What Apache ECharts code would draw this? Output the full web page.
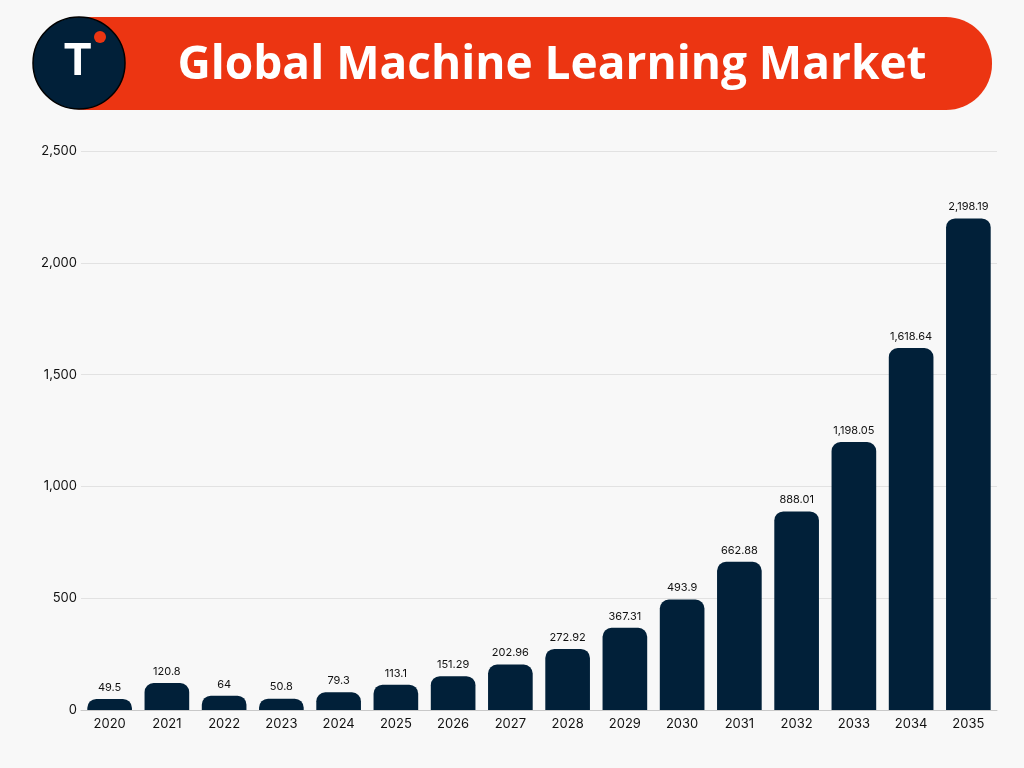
<!DOCTYPE html>
<html>
<head>
<meta charset="utf-8">
<script src="https://cdn.jsdelivr.net/npm/echarts@6/dist/echarts.min.js"></script>
<style>
  body, html { margin: 0; padding: 0; width: 100%; height: 100%; overflow: hidden; background: #f8f8f8; }
  #chart { width: 1024px; height: 768px; }
</style>
</head>
<body>
<div id="chart"></div>
<script>
var years = ['2020', '2021', '2022', '2023', '2024', '2025', '2026', '2027',
  '2028', '2029', '2030', '2031', '2032', '2033', '2034', '2035'];
var marketSize = [49.5, 120.8, 64, 50.8, 79.3, 113.1, 151.29, 202.96,
  272.92, 367.31, 493.9, 662.88, 888.01, 1198.05, 1618.64, 2198.19];
var titleText = 'Global Machine Learning Market';

function fmt(v) {
  return Number(v).toLocaleString('en-US', { maximumFractionDigits: 2 });
}

var chart = echarts.init(document.getElementById('chart'));
chart.setOption({
  backgroundColor: '#f8f8f8',
  textStyle: { fontFamily: 'Inter, Roboto, sans-serif' },
  grid: { left: 81, right: 27, top: 151, bottom: 58 },
  xAxis: {
    type: 'category',
    data: years,
    axisLine: { lineStyle: { color: '#c8c8c8', width: 1 } },
    axisTick: { show: false },
    axisLabel: { color: '#111', fontSize: 13, margin: 8 }
  },
  yAxis: {
    type: 'value',
    min: 0,
    max: 2500,
    interval: 500,
    axisLine: { show: false },
    axisTick: { show: false },
    splitLine: { lineStyle: { color: '#e2e2e2' } },
    axisLabel: { color: '#111', fontSize: 13, margin: 4, formatter: fmt }
  },
  series: [{
    type: 'bar',
    data: marketSize,
    barWidth: '78%',
    itemStyle: { color: '#012039', borderRadius: [9, 9, 0, 0] },
    label: {
      show: true,
      position: 'top',
      distance: 6,
      color: '#111',
      fontSize: 11,
      formatter: function (p) { return fmt(p.value); }
    }
  }],
  graphic: [
    {
      type: 'rect',
      shape: { x: 40, y: 17, width: 952, height: 93, r: 46 },
      style: { fill: '#ec3512' }
    },
    {
      type: 'circle',
      shape: { cx: 79, cy: 63, r: 46 },
      style: { fill: '#012039', stroke: '#000', lineWidth: 1.5 }
    },
    {
      type: 'text',
      left: 63,
      top: 40,
      style: { text: 'T', fill: '#fff', font: 'bold 44px Inter, Roboto, sans-serif' }
    },
    {
      type: 'circle',
      shape: { cx: 100, cy: 37, r: 6 },
      style: { fill: '#ec3512' }
    },
    {
      type: 'text',
      x: 552,
      y: 66,
      style: {
        text: titleText,
        fill: '#fff',
        font: 'bold 46px "Open Sans", Roboto, sans-serif',
        align: 'center',
        verticalAlign: 'middle'
      }
    }
  ]
});
</script>
</body>
</html>
